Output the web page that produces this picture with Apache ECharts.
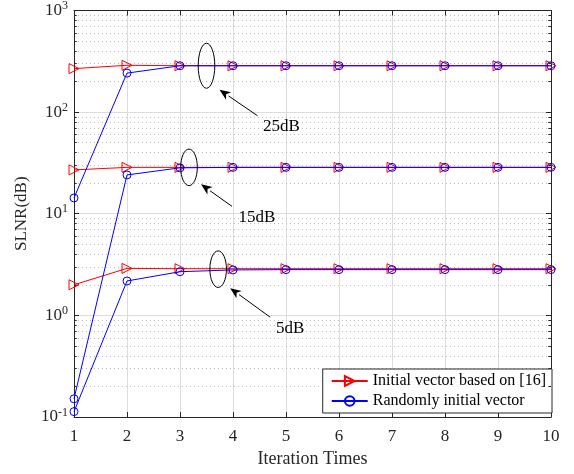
<!DOCTYPE html>
<html>
<head>
<meta charset="utf-8">
<script src="https://cdn.jsdelivr.net/npm/echarts@6/dist/echarts.min.js"></script>
<style>
  html, body { margin: 0; padding: 0; background: #fff; }
  #chart { width: 574px; height: 474px; }
</style>
</head>
<body>
<div id="chart"></div>
<script>
// iteration index
const iterations = [1, 2, 3, 4, 5, 6, 7, 8, 9, 10];

// SLNR values
const init25 = [268, 289, 286, 286, 286, 286, 286, 286, 286, 286];
const rand25 = [14.3, 242, 286, 286, 286, 286, 286, 286, 286, 286];
const init15 = [27.0, 28.6, 28.6, 28.6, 28.6, 28.6, 28.6, 28.6, 28.6, 28.6];
const rand15 = [0.151, 24.1, 28.3, 28.6, 28.6, 28.6, 28.6, 28.6, 28.6, 28.6];
const init5 = [2.0, 2.9, 2.88, 2.88, 2.88, 2.88, 2.88, 2.88, 2.88, 2.88];
const rand5 = [0.113, 2.18, 2.69, 2.8, 2.82, 2.82, 2.82, 2.82, 2.82, 2.82];

const legendNames = ['Initial vector based on [16]', 'Randomly initial vector'];
const decades = [0.1, 1, 10, 100];
const minorSteps = [2, 3, 4, 5, 6, 7, 8, 9];

// annotation labels: anchor [x, y] of the ellipse on the data scale
const notes = [
  { text: '25dB', at: [3.50, 286], ry: 22.5, tip: [13, 24], tail: [51, 50], label: [75, 61] },
  { text: '15dB', at: [3.17, 28.6], ry: 18.3, tip: [12, 17], tail: [43, 39], label: [68, 50] },
  { text: '5dB',  at: [3.72, 2.85], ry: 18.3, tip: [12, 19], tail: [52, 48], label: [72, 59] }
];

const FONT = 'Liberation Serif';
const RED = '#ff0000';
const BLUE = '#0000ff';

function pairs(vals) {
  return iterations.map((x, i) => [x, vals[i]]);
}

const minorVals = [];
decades.forEach(d => minorSteps.forEach(s => minorVals.push(+(d * s).toPrecision(3))));

function redSeries(vals) {
  return {
    name: legendNames[0], type: 'line', data: pairs(vals), z: 3,
    symbol: 'triangle', symbolRotate: -90, symbolSize: 10,
    lineStyle: { color: RED, width: 1 },
    itemStyle: { color: 'rgba(0,0,0,0)', borderColor: RED, borderWidth: 1 },
    color: RED, animation: false
  };
}
function blueSeries(vals) {
  return {
    name: legendNames[1], type: 'line', data: pairs(vals), z: 4,
    symbol: 'circle', symbolSize: 8,
    lineStyle: { color: BLUE, width: 1 },
    itemStyle: { color: 'rgba(0,0,0,0)', borderColor: BLUE, borderWidth: 1 },
    color: BLUE, animation: false
  };
}

const axisLine = { show: true, lineStyle: { color: '#262626', width: 1 } };

const chart = echarts.init(document.getElementById('chart'));
chart.setOption({
  backgroundColor: '#fff',
  animation: false,
  grid: { left: 74, right: 23, top: 8, bottom: 57 },
  legend: {
    data: legendNames,
    orient: 'vertical',
    right: 22, top: 369,
    backgroundColor: '#fff',
    borderColor: '#262626', borderWidth: 1,
    padding: [4, 6, 4, 8],
    itemGap: 4, itemWidth: 36, itemHeight: 12,
    textStyle: { fontFamily: FONT, fontSize: 16, color: '#000' }
  },
  xAxis: [{
    type: 'value', min: 1, max: 10, interval: 1,
    name: 'Iteration Times', nameLocation: 'middle', nameGap: 33,
    nameTextStyle: { fontFamily: FONT, fontSize: 18, color: '#262626' },
    axisLine: axisLine,
    axisTick: { inside: true, length: 5, lineStyle: { color: '#262626' } },
    axisLabel: { fontFamily: FONT, fontSize: 17, color: '#262626', margin: 11 },
    splitLine: { show: true, lineStyle: { color: '#dcdcdc', width: 1 } }
  }, {
    type: 'value', min: 1, max: 10, interval: 1, position: 'top',
    axisLine: axisLine,
    axisTick: { inside: true, length: 5, lineStyle: { color: '#262626' } },
    axisLabel: { show: false }, splitLine: { show: false }
  }],
  yAxis: [{
    type: 'log', logBase: 10, min: 0.1, max: 1000,
    name: 'SLNR(dB)', nameLocation: 'middle', nameGap: 42,
    nameTextStyle: { fontFamily: FONT, fontSize: 17, color: '#262626' },
    axisLine: axisLine,
    axisTick: { inside: true, length: 5, lineStyle: { color: '#262626' } },
    axisLabel: {
      margin: 6, color: '#262626',
      formatter: v => '{b|10}{s|' + Math.round(Math.log10(v)) + '}',
      rich: {
        b: { fontFamily: FONT, fontSize: 17, color: '#262626' },
        s: { fontFamily: FONT, fontSize: 12, color: '#262626', padding: [0, 0, 9, 0] }
      }
    },
    splitLine: { show: true, lineStyle: { color: '#dcdcdc', width: 1 } }
  }, {
    type: 'log', logBase: 10, min: 0.1, max: 1000, position: 'right',
    axisLine: axisLine,
    axisTick: { inside: true, length: 5, lineStyle: { color: '#262626' } },
    axisLabel: { show: false }, splitLine: { show: false }
  }],
  series: [
    {
      // minor log grid
      type: 'line', data: [], z: 1, silent: true,
      markLine: {
        silent: true, symbol: ['none', 'none'], z: 1, animation: false,
        label: { show: false },
        lineStyle: { color: '#bdbdbd', width: 1, type: [1, 3] },
        emphasis: { disabled: true },
        data: minorVals.map(v => ({ yAxis: v }))
      }
    },
    {
      // minor ticks on the left and right edges
      type: 'line', data: [], z: 5, silent: true,
      markLine: {
        silent: true, symbol: ['none', 'none'], z: 5, animation: false,
        label: { show: false },
        lineStyle: { color: '#262626', width: 1, type: 'solid' },
        emphasis: { disabled: true },
        data: minorVals.map(v => [{ coord: [1, v] }, { coord: [1.05, v] }])
          .concat(minorVals.map(v => [{ coord: [9.95, v] }, { coord: [10, v] }]))
      }
    },
    redSeries(init25), redSeries(init15), redSeries(init5),
    blueSeries(rand25), blueSeries(rand15), blueSeries(rand5)
  ]
});

// ellipses, arrows and labels placed relative to the data scale
const graphics = [];
notes.forEach(n => {
  const c = chart.convertToPixel({ xAxisIndex: 0, yAxisIndex: 0 }, n.at);
  const tip = [c[0] + n.tip[0], c[1] + n.tip[1]];
  const tail = [c[0] + n.tail[0], c[1] + n.tail[1]];
  const dx = tip[0] - tail[0], dy = tip[1] - tail[1];
  const len = Math.sqrt(dx * dx + dy * dy);
  const ux = dx / len, uy = dy / len;
  const headL = 11, headW = 4.5;
  const bx = tip[0] - ux * headL, by = tip[1] - uy * headL;
  graphics.push({
    type: 'ellipse', z: 10,
    shape: { cx: c[0], cy: c[1], rx: 8.3, ry: n.ry },
    style: { fill: 'none', stroke: '#000', lineWidth: 1 }
  });
  graphics.push({
    type: 'line', z: 10,
    shape: { x1: tail[0], y1: tail[1], x2: bx, y2: by },
    style: { stroke: '#000', lineWidth: 1 }
  });
  graphics.push({
    type: 'polygon', z: 10,
    shape: { points: [tip, [bx - uy * headW, by + ux * headW], [bx + ux * 3, by + uy * 3], [bx + uy * headW, by - ux * headW]] },
    style: { fill: '#000' }
  });
  graphics.push({
    type: 'text', z: 10,
    x: c[0] + n.label[0], y: c[1] + n.label[1],
    style: { text: n.text, fontFamily: FONT, fontSize: 17, fill: '#000', align: 'center', verticalAlign: 'middle' }
  });
});
chart.setOption({ graphic: graphics });
</script>
</body>
</html>
